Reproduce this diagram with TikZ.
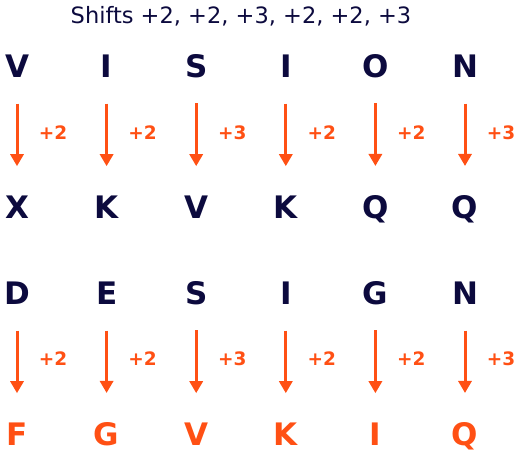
\documentclass[tikz,border=0pt]{standalone}
\usepackage{fontspec}
\setmainfont{DejaVu Sans}
\usepackage{tikz}
\usetikzlibrary{arrows.meta}

\definecolor{navy}{HTML}{0C0A3E}
\definecolor{shiftorange}{HTML}{FF5014}

\tikzset{
  letter/.style={font=\fontsize{31}{35}\selectfont\bfseries,inner sep=0pt,text depth=0pt,anchor=base},
  plain letter/.style={letter,text=navy},
  coded letter/.style={letter,text=shiftorange},
  shift arrow/.style={draw=shiftorange,line width=3pt,-{Triangle[width=13pt,length=12pt]},shorten <=37pt,shorten >=41.5pt},
  shift label/.style={font=\fontsize{18.5}{22}\selectfont\bfseries,text=shiftorange,inner sep=0pt}
}

\begin{document}
\begin{tikzpicture}[x=1pt,y=-1pt]
  \useasboundingbox (0,0) rectangle (520,457);
  \node[at={(241,16)},font=\fontsize{22.5}{26}\selectfont,text=navy,inner sep=0pt] (title) {Shifts +2, +2, +3, +2, +2, +3};

  %vision
  \foreach \i/\p/\c/\s in {1/V/X/2,2/I/K/2,3/S/V/3,4/I/K/2,5/O/Q/2,6/N/Q/3}{
    \node[plain letter,at={(17+89.6*\i-89.6,78)}] (vis-\i) {\p};
    \node[plain letter,at={(17+89.6*\i-89.6,219)}] (vis-code-\i) {\c};
    \draw[shift arrow] (vis-\i.center) -- (vis-code-\i.center);
    \node[shift label,at={(53+89.6*\i-89.6,133)}] (vis-shift-\i) {+\s};
  }

  %design
  \foreach \i/\p/\c/\s in {1/D/F/2,2/E/G/2,3/S/V/3,4/I/K/2,5/G/I/2,6/N/Q/3}{
    \node[plain letter,at={(17+89.6*\i-89.6,305)}] (des-\i) {\p};
    \node[coded letter,at={(17+89.6*\i-89.6,446)}] (des-code-\i) {\c};
    \draw[shift arrow] (des-\i.center) -- (des-code-\i.center);
    \node[shift label,at={(53+89.6*\i-89.6,359)}] (des-shift-\i) {+\s};
  }
\end{tikzpicture}
\end{document}
